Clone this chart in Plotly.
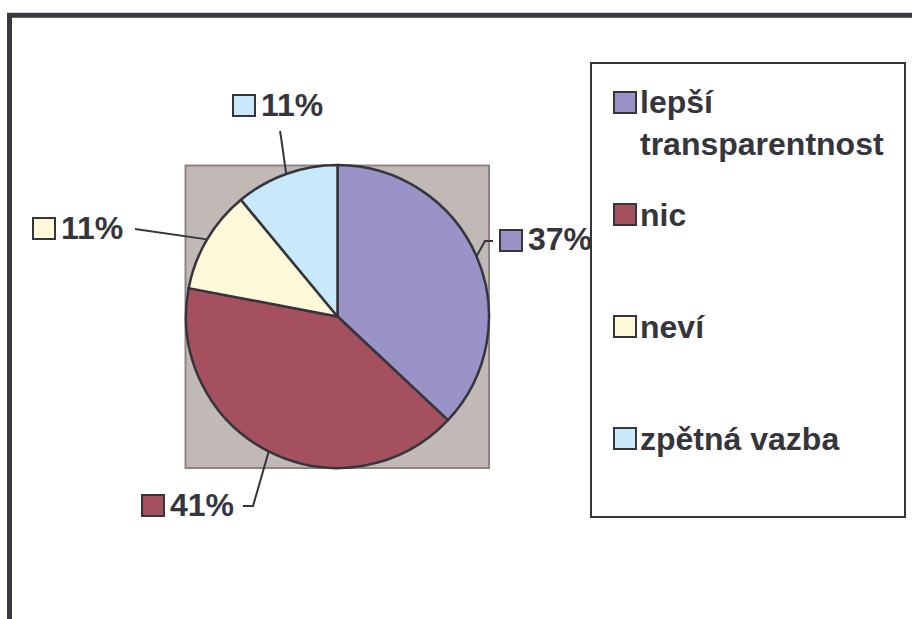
import math
import plotly.graph_objects as go

# ---- data ----
labels = ["lepší transparentnost", "nic", "neví", "zpětná vazba"]
legend_text = ["lepší<br>transparentnost", "nic", "neví", "zpětná vazba"]
values = [37, 41, 11, 11]
colors = ["#9a93c8", "#a5505e", "#fff9d9", "#c8e9f9"]

# ---- style / layout (pixels) ----
W, H = 912, 619
INK = "#35353b"
FONT = dict(family="Liberation Sans, Arial, sans-serif", size=32, color=INK, weight="bold")
CX, CY, R = 337.5, 316.5, 151.5
# per-slice label layout: leader end (near label), optional elbow, marker top-left
label_end = [(493, 241), (243, 506), (135, 229), (280, 131)]
label_elbow = [(485, 241), (253, 506), None, (281, 137)]
label_marker = [(500, 230), (142, 495), (33, 218), (233, 95)]
legend_marker_top = [92, 204, 316, 428]
MK_W, MK_H = 22, 21


def px(x):
    return x / W


def py(y):
    return 1 - y / H


fig = go.Figure()
fig.add_trace(go.Pie(
    labels=labels, values=values, sort=False, direction="clockwise", rotation=0,
    marker=dict(colors=colors, line=dict(color=INK, width=2.5)),
    textinfo="none", hoverinfo="label+percent", showlegend=False,
    domain=dict(x=[px(CX - R), px(CX + R)], y=[py(CY + R), py(CY - R)]),
))

shapes = []
annotations = []

# plot-area grey square
shapes.append(dict(type="rect", xref="paper", yref="paper", layer="below",
                   x0=px(185.5), x1=px(489), y0=py(468), y1=py(165.5),
                   fillcolor="#c1b9b6", line=dict(color="#8f8380", width=2)))

# outer frame (top and left edges)
shapes.append(dict(type="line", xref="paper", yref="paper", x0=px(7), x1=px(912),
                   y0=py(15.3), y1=py(15.3), line=dict(color="#38383e", width=5)))
shapes.append(dict(type="line", xref="paper", yref="paper", x0=px(9.5), x1=px(9.5),
                   y0=py(13), y1=py(619), line=dict(color="#38383e", width=5)))

# data labels with leader lines
total = sum(values)
cum = 0
for i, v in enumerate(values):
    pct = v / total
    mid = (cum + v / 2) / total * 2 * math.pi
    cum += v
    ex, ey = CX + R * math.sin(mid), CY - R * math.cos(mid)
    pts = [label_end[i]]
    if label_elbow[i]:
        pts.append(label_elbow[i])
    pts.append((ex, ey))
    path = "M " + " L ".join(f"{px(x):.5f},{py(y):.5f}" for x, y in pts)
    shapes.append(dict(type="path", xref="paper", yref="paper", path=path,
                       line=dict(color=INK, width=2)))
    mx, my = label_marker[i]
    shapes.append(dict(type="rect", xref="paper", yref="paper",
                       x0=px(mx), x1=px(mx + MK_W), y0=py(my + MK_H), y1=py(my),
                       fillcolor=colors[i], line=dict(color=INK, width=2)))
    annotations.append(dict(xref="paper", yref="paper", x=px(mx + MK_W + 4), y=py(my + MK_H / 2 - 1),
                            xanchor="left", yanchor="middle", showarrow=False,
                            text=f"{round(pct * 100)}%", font=FONT))

# legend box
shapes.append(dict(type="rect", xref="paper", yref="paper",
                   x0=px(591), x1=px(905), y0=py(517), y1=py(63),
                   fillcolor="rgba(255,255,255,0)", line=dict(color=INK, width=2)))
for i, t in enumerate(legend_text):
    top = legend_marker_top[i]
    shapes.append(dict(type="rect", xref="paper", yref="paper",
                       x0=px(614), x1=px(614 + MK_W), y0=py(top + MK_H), y1=py(top),
                       fillcolor=colors[i], line=dict(color=INK, width=2)))
    annotations.append(dict(xref="paper", yref="paper", x=px(638), y=py(top + MK_H / 2 - 20),
                            xanchor="left", yanchor="top", align="left", showarrow=False,
                            text=t, font=FONT))

fig.update_layout(
    width=W, height=H, margin=dict(l=0, r=0, t=0, b=0),
    paper_bgcolor="white", plot_bgcolor="white",
    shapes=shapes, annotations=annotations,
)
fig.write_html("out.html", config={"displayModeBar": False},
               post_script="document.body.style.margin='0px';")
